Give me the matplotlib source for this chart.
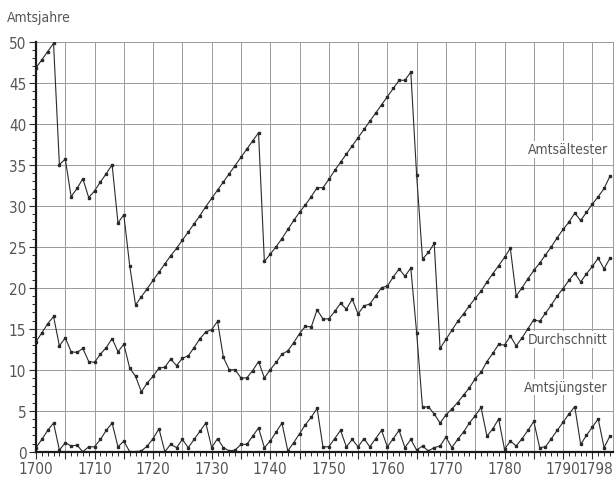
import matplotlib
matplotlib.use("Agg")
import matplotlib.pyplot as plt
import matplotlib.transforms as mtransforms
from matplotlib import font_manager
from matplotlib.ticker import MultipleLocator

years = list(range(1700, 1799))

# Dienstjahre des amtsältesten Mitglieds
aeltester = [
    46.8, 47.8, 48.8, 49.8, 35.0, 35.7, 31.1, 32.1, 33.3, 31.0,
    31.8, 32.9, 33.9, 35.0, 27.9, 28.9, 22.7, 17.9, 18.9, 19.9,
    20.9, 21.9, 22.9, 23.9, 24.8, 25.8, 26.8, 27.8, 28.8, 29.9,
    30.9, 31.9, 32.9, 33.9, 34.9, 35.9, 36.9, 37.9, 38.9, 23.2,
    24.1, 25.0, 26.0, 27.1, 28.2, 29.2, 30.1, 31.1, 32.2, 32.2,
    33.2, 34.3, 35.3, 36.3, 37.3, 38.3, 39.3, 40.3, 41.3, 42.3,
    43.3, 44.3, 45.3, 45.3, 46.3, 33.7, 23.5, 24.3, 25.4, 12.6,
    13.7, 14.8, 15.9, 16.8, 17.8, 18.7, 19.6, 20.7, 21.7, 22.7,
    23.7, 24.8, 19.0, 20.0, 21.1, 22.1, 23.0, 24.0, 25.0, 26.1,
    27.1, 28.0, 29.1, 28.2, 29.2, 30.2, 31.1, 32.1, 33.6,
]

# Durchschnittliche Amtsjahre
durchschnitt = [
    13.4, 14.5, 15.6, 16.5, 12.9, 13.9, 12.2, 12.1, 12.6, 11.0,
    10.9, 11.9, 12.7, 13.8, 12.2, 13.1, 10.2, 9.2, 7.3, 8.4,
    9.2, 10.2, 10.3, 11.3, 10.5, 11.4, 11.7, 12.7, 13.8, 14.6,
    14.9, 15.9, 11.5, 10.0, 10.0, 9.0, 9.0, 9.9, 11.0, 9.0,
    10.0, 10.9, 11.9, 12.3, 13.3, 14.4, 15.3, 15.2, 17.3, 16.2,
    16.2, 17.1, 18.1, 17.4, 18.6, 16.8, 17.8, 18.0, 19.0, 20.0,
    20.2, 21.3, 22.3, 21.4, 22.4, 14.5, 5.4, 5.5, 4.6, 3.5,
    4.5, 5.2, 6.0, 6.9, 7.8, 8.9, 9.7, 11.0, 12.0, 13.1,
    13.0, 14.1, 12.9, 13.9, 15.0, 16.1, 15.9, 16.9, 17.9, 19.0,
    19.9, 20.9, 21.8, 20.7, 21.7, 22.6, 23.6, 22.3, 23.6,
]

# Dienstjahre des amtsjüngsten Mitglieds
juengster = [
    0.5, 1.5, 2.6, 3.5, 0.2, 1.1, 0.7, 0.8, 0.0, 0.6,
    0.6, 1.5, 2.6, 3.5, 0.6, 1.3, 0.0, 0.0, 0.1, 0.7,
    1.6, 2.8, 0.0, 0.9, 0.5, 1.5, 0.5, 1.5, 2.5, 3.5,
    0.5, 1.6, 0.5, 0.1, 0.2, 0.9, 0.9, 1.9, 2.9, 0.5,
    1.3, 2.4, 3.5, 0.1, 1.1, 2.2, 3.3, 4.2, 5.3, 0.6,
    0.6, 1.6, 2.6, 0.6, 1.5, 0.6, 1.6, 0.6, 1.6, 2.6,
    0.6, 1.6, 2.6, 0.5, 1.5, 0.2, 0.7, 0.1, 0.5, 0.7,
    1.8, 0.5, 1.5, 2.4, 3.5, 4.4, 5.4, 1.9, 2.8, 4.0,
    0.3, 1.3, 0.7, 1.6, 2.6, 3.7, 0.5, 0.6, 1.6, 2.6,
    3.6, 4.6, 5.5, 0.9, 2.0, 3.0, 4.0, 0.5, 1.9,
]

series = [
    ("Amtsältester", aeltester, 36.9),
    ("Durchschnitt", durchschnitt, 13.7),
    ("Amtsjüngster", juengster, 7.9),
]

labelled_years = [1700, 1710, 1720, 1730, 1740, 1750, 1760, 1770, 1780, 1790]

TXT = "#555555"
GRID = "#9a9a9a"
LINE = "#2a2a2a"
TICK_FS = 11
TICK_LEN, TICK_PAD = 5, 2

# schmale Schrift, falls vorhanden
names = {f.name for f in font_manager.fontManager.ttflist}
if "Liberation Sans Narrow" in names:
    plt.rcParams["font.family"] = ["Liberation Sans Narrow", "DejaVu Sans"]
else:
    plt.rcParams["font.family"] = ["DejaVu Sans"]
    plt.rcParams["font.stretch"] = "condensed"

fig = plt.figure(figsize=(6.15, 4.81), dpi=100)
ax = fig.add_axes([0.0585, 0.0588, 0.938, 0.8524])

for name, vals, ylab in series:
    ax.plot(years, vals, color=LINE, lw=0.8, marker="s", ms=1.7,
            mfc=LINE, mec=LINE, zorder=3)
    ax.text(1797.6, ylab, name, ha="right", va="center", fontsize=10,
            color=TXT, zorder=4,
            bbox=dict(facecolor="white", edgecolor="none", pad=1.0))

ax.set_xlim(1700, 1798.5)
ax.set_ylim(0, 50)

ax.set_xticks(range(1700, 1799, 5))
ax.set_xticks(range(1700, 1799), minor=True)
ax.set_xticklabels([str(y) if y in labelled_years else "" for y in range(1700, 1799, 5)])
ax.yaxis.set_major_locator(MultipleLocator(5))
ax.yaxis.set_minor_locator(MultipleLocator(1))
ax.grid(True, which="major", color=GRID, lw=0.7, zorder=1)

ax.tick_params(axis="both", which="major", labelsize=TICK_FS, labelcolor=TXT,
               color=LINE, length=TICK_LEN, width=0.8, direction="out",
               pad=TICK_PAD)
ax.tick_params(axis="both", which="minor", color=LINE, length=3,
               width=0.7, direction="out")

# letzte Beschriftung 1798 bündig am rechten Rand, gleiche Höhe wie die Ticklabels
trans = mtransforms.offset_copy(ax.get_xaxis_transform(), fig=fig,
                                x=0, y=-(TICK_LEN + TICK_PAD), units="points")
ax.text(1798.5, 0, "1798", transform=trans, ha="right", va="top",
        fontsize=TICK_FS, color=TXT, clip_on=False)

for side in ("top", "right"):
    ax.spines[side].set_color(GRID)
    ax.spines[side].set_linewidth(0.7)
for side in ("left", "bottom"):
    ax.spines[side].set_color("#1a1a1a")
    ax.spines[side].set_linewidth(1.6)
    ax.spines[side].set_zorder(5)

fig.text(0.012, 0.962, "Amtsjahre", fontsize=10, color=TXT,
         ha="left", va="center")

fig.savefig("out.png", dpi=100)
